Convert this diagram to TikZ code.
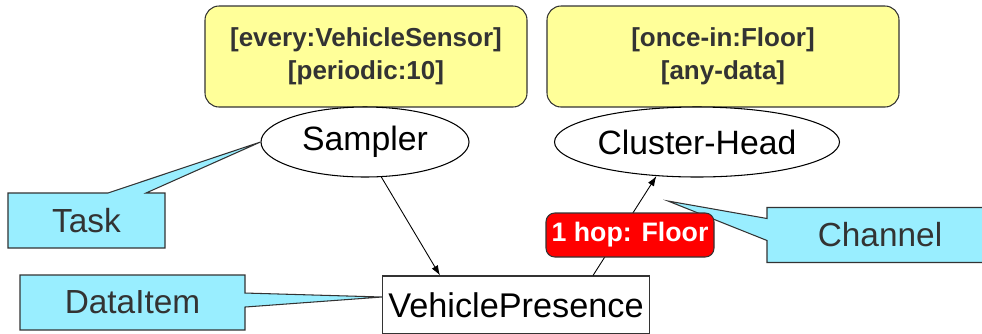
\documentclass[tikz,border=0pt]{standalone}
\usepackage{fontspec}
\setmainfont{Liberation Sans}
\usepackage{xcolor}
\usepackage{tikz}
\usetikzlibrary{shapes.geometric,shapes.callouts,arrows.meta}
\definecolor{notefill}{HTML}{99EEFF}
\definecolor{rulefill}{HTML}{FFFF99}
\definecolor{inkgray}{HTML}{333333}
\tikzset{
  rulebox/.style={draw=inkgray, fill=rulefill, rounded corners=8pt, align=center,
    text=inkgray, font=\bfseries\fontsize{14.8}{18.9}\selectfont,
    minimum height=2.02cm, line width=0.6pt},
  role/.style={ellipse, draw, fill=white, inner sep=0pt,
    font=\fontsize{19.2}{21}\selectfont, line width=0.6pt},
  note/.style={rectangle callout, draw=inkgray, fill=notefill, text=inkgray,
    font=\fontsize{19}{21}\selectfont, minimum height=1.1cm, line width=0.6pt},
  datum/.style={draw=inkgray, fill=white, font=\fontsize{19.5}{21}\selectfont,
    minimum width=5.24cm, minimum height=1.16cm, line width=0.6pt},
  hop/.style={draw=inkgray, fill=red, text=white, rounded corners=5pt,
    font=\bfseries\fontsize{15.2}{17}\selectfont, minimum width=3.36cm,
    minimum height=0.88cm, inner sep=1pt, line width=0.6pt},
  flow/.style={-{Latex[length=2mm,width=1.4mm]}, line width=0.5pt}
}

\begin{document}
\begin{tikzpicture}
  \useasboundingbox (0,0) rectangle (19.64,-6.66);
  % constraint boxes
  \node[rulebox, minimum width=6.44cm] (every) at (7.32,-1.13)
    {[every:VehicleSensor]\\{}[periodic:10]};
  \node[rulebox, minimum width=7.04cm] (once) at (14.46,-1.13)
    {[once-in:Floor]\\{}[any-data]};
  % tasks
  \node[role, minimum width=4.16cm, minimum height=1.4cm] (sampler) at (7.30,-2.84) {Sampler};
  \node[role, minimum width=5.7cm, minimum height=1.4cm] (head) at (13.94,-2.84) {Cluster-Head};
  % data item
  \node[datum] (presence) at (10.32,-6.10) {VehiclePresence};
  \coordinate (chan) at (13.36,-4.02);
  % callouts
  \node[note, minimum width=3.14cm, callout pointer width=0.76cm,
    callout absolute pointer={(sampler.west)}] (task) at (1.73,-4.41) {Task};
  \node[note, minimum width=4.5cm, callout pointer width=0.28cm,
    callout absolute pointer={([yshift=0.16cm]presence.west)}] (item) at (2.65,-6.05) {DataItem};
  \node[note, minimum width=4.52cm, callout pointer width=0.44cm,
    callout absolute pointer={(chan)}] (channel) at (17.6,-4.7) {Channel};
  % flows
  \draw[flow] (sampler.-65) -- ([xshift=-1.52cm]presence.north);
  \draw[flow] ([xshift=1.54cm]presence.north) -- (head.-140);
  \node[hop] (floor) at (12.6,-4.7) {1 hop: Floor};
\end{tikzpicture}
\end{document}
